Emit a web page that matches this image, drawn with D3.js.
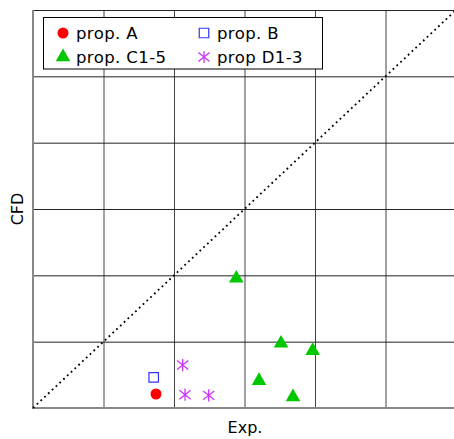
<!DOCTYPE html>
<html>
<head>
<meta charset="utf-8">
<script src="https://cdn.jsdelivr.net/npm/d3@7"></script>
<style>
  html, body { margin: 0; padding: 0; background: #fff; }
  svg { display: block; font-family: "DejaVu Sans", sans-serif; }
</style>
</head>
<body>
<svg id="chart" width="454" height="439"></svg>
<script>
// Measured vs. simulated values (normalised units)
const gridTicks = [0, 1, 2, 3, 4, 5, 6];

const propA_exp = [1.745];
const propA_cfd = [0.211];

const propB_exp = [1.712];
const propB_cfd = [0.463];

const propC_exp = [2.884, 3.518, 3.967, 3.206, 3.688];
const propC_cfd = [1.955, 0.975, 0.864, 0.412, 0.166];

const propD_exp = [2.123, 2.156, 2.492];
const propD_cfd = [0.648, 0.200, 0.191];

const seriesNames = ["prop. A", "prop. B", "prop. C1-5", "prop D1-3"];

const svg = d3.select("#chart");
const plotL = 33, plotR = 456, plotT = 10, plotB = 408;

const x = d3.scaleLinear().domain([0, 6]).range([plotL, plotR]);
const y = d3.scaleLinear().domain([0, 6]).range([plotB, plotT]);

// Grid lines drawn through the axes
svg.append("g")
  .attr("transform", `translate(0,${plotB})`)
  .call(d3.axisBottom(x).tickValues(gridTicks).tickSize(-(plotB - plotT)).tickFormat(""))
  .call(g => g.select(".domain").remove())
  .call(g => g.selectAll(".tick line").attr("stroke", "#444").attr("stroke-width", 1));

svg.append("g")
  .attr("transform", `translate(${plotL},0)`)
  .call(d3.axisLeft(y).tickValues(gridTicks).tickSize(-(plotR - plotL)).tickFormat(""))
  .call(g => g.select(".domain").remove())
  .call(g => g.selectAll(".tick line").attr("stroke", "#222").attr("stroke-width", 1));

// Left and bottom frame
svg.append("line").attr("x1", plotL).attr("x2", plotL).attr("y1", plotT).attr("y2", plotB + 1)
  .attr("stroke", "#888").attr("stroke-width", 2);
svg.append("line").attr("x1", plotL).attr("x2", 454).attr("y1", plotB).attr("y2", plotB)
  .attr("stroke", "#888").attr("stroke-width", 2);

// y = x reference line
svg.append("line")
  .attr("x1", x(0)).attr("y1", y(0)).attr("x2", x(6)).attr("y2", y(6))
  .attr("stroke", "#000").attr("stroke-width", 1.8).attr("stroke-dasharray", "1.8,3.4");

// Asterisk symbol: vertical stroke plus two diagonals
const asterisk = {
  draw(ctx, size) {
    const r = Math.sqrt(size) / 2;
    ctx.moveTo(0, -r); ctx.lineTo(0, r);
    ctx.moveTo(-r * 0.92, -r * 0.72); ctx.lineTo(r * 0.92, r * 0.72);
    ctx.moveTo(-r * 0.92, r * 0.72); ctx.lineTo(r * 0.92, -r * 0.72);
  }
};

const styles = [
  { type: d3.symbolCircle, size: 95, fill: "#ff0000", stroke: "none" },
  { type: d3.symbolSquare, size: 90, fill: "none", stroke: "#3333ff", sw: 1.2 },
  { type: d3.symbolTriangle, size: 92, fill: "#00c800", stroke: "none" },
  { type: asterisk, size: 150, fill: "none", stroke: "#cc33ff", sw: 1.3 }
];

const series = [
  propA_exp.map((v, i) => [v, propA_cfd[i]]),
  propB_exp.map((v, i) => [v, propB_cfd[i]]),
  propC_exp.map((v, i) => [v, propC_cfd[i]]),
  propD_exp.map((v, i) => [v, propD_cfd[i]])
];

series.forEach((pts, si) => {
  const st = styles[si];
  svg.append("g").selectAll("path").data(pts).join("path")
    .attr("transform", d => `translate(${x(d[0])},${y(d[1])})`)
    .attr("d", d3.symbol().type(st.type).size(st.size))
    .attr("fill", st.fill)
    .attr("stroke", st.stroke)
    .attr("stroke-width", st.sw || 0);
});

// Legend
const lg = svg.append("g");
lg.append("rect").attr("x", 43.5).attr("y", 17.5).attr("width", 279).attr("height", 51.5)
  .attr("fill", "#fff").attr("stroke", "#000").attr("stroke-width", 1);
const legendPos = [[63, 33], [204, 33], [63, 57], [204, 57]];
seriesNames.forEach((name, i) => {
  const st = styles[i];
  const [lx, ly] = legendPos[i];
  lg.append("path")
    .attr("transform", `translate(${lx},${ly})`)
    .attr("d", d3.symbol().type(st.type).size(st.size))
    .attr("fill", st.fill).attr("stroke", st.stroke).attr("stroke-width", st.sw || 0);
  lg.append("text").attr("x", lx + 13).attr("y", ly + 6)
    .attr("font-size", 16.5).attr("letter-spacing", 0.4).attr("fill", "#000").text(name);
});

// Axis titles
svg.append("text").attr("x", 245).attr("y", 433).attr("text-anchor", "middle")
  .attr("font-size", 16).text("Exp.");
svg.append("text").attr("transform", "translate(23,209) rotate(-90)")
  .attr("text-anchor", "middle").attr("font-size", 16).text("CFD");
</script>
</body>
</html>
